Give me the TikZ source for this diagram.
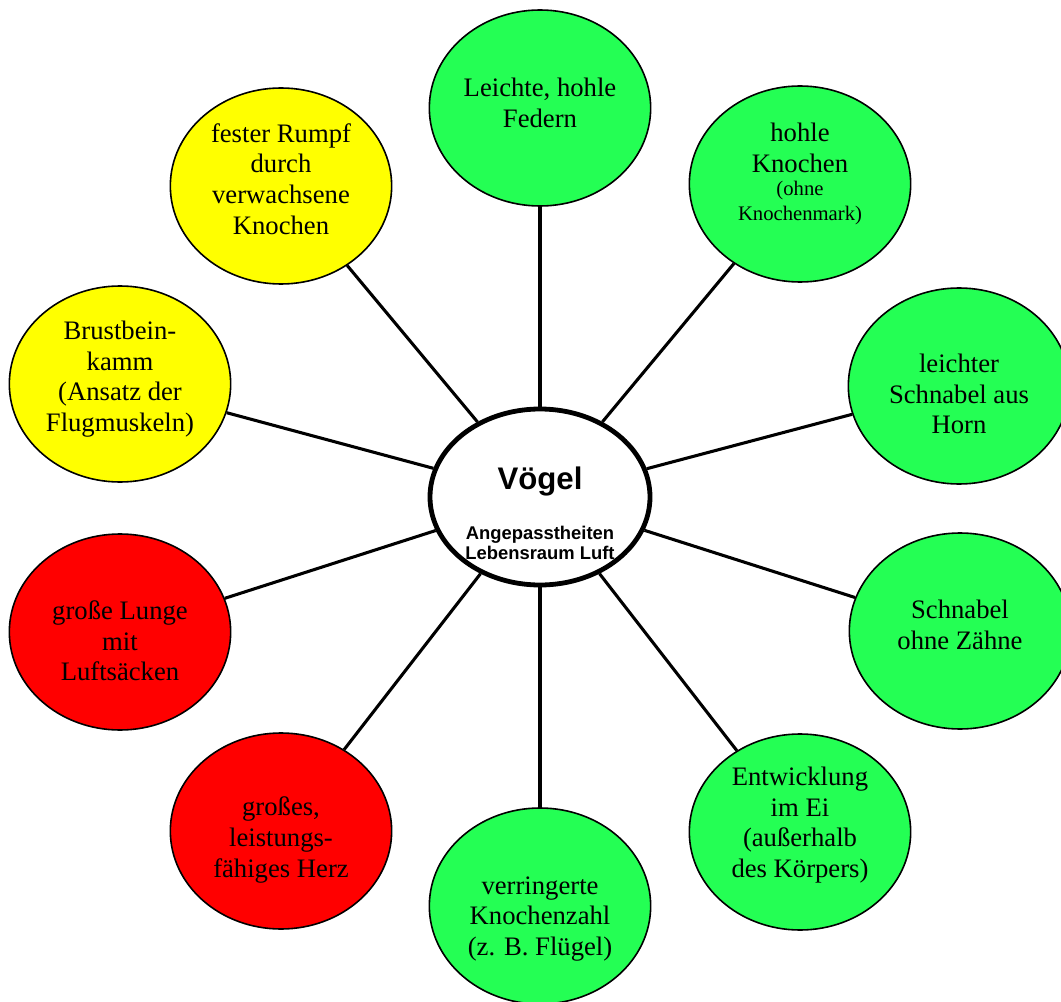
\documentclass[tikz,border=0pt]{standalone}
\usepackage{fontspec}
\setmainfont{Liberation Serif}
\setsansfont{Liberation Sans}
\usepackage{xcolor}
\usetikzlibrary{shapes.geometric}

\definecolor{blattgruen}{RGB}{36,255,84}
\definecolor{gelb}{RGB}{255,255,0}
\definecolor{rot}{RGB}{255,0,0}

\tikzset{
  bubble/.style={ellipse, draw=black, line width=1.2pt, minimum width=166pt, minimum height=147pt, inner sep=0pt},
  mitte/.style={ellipse, draw=black, line width=3.6pt, fill=white, minimum width=165pt, minimum height=132pt, inner sep=0pt},
  txt/.style={align=center, inner sep=0pt, font=\fontsize{20}{23}\selectfont},
  kleintxt/.style={align=center, inner sep=0pt, font=\fontsize{15.5}{18.5}\selectfont},
  link/.style={line width=2.3pt}
}

\begin{document}
\begin{tikzpicture}[x=0.75pt, y=-0.75pt]
\useasboundingbox (0,0) rectangle (1061,1002);
% centre
\node[mitte] (voegel) at (540,497) {};
\node[inner sep=0pt, font=\sffamily\bfseries\fontsize{23.4}{28}\selectfont] (voegel-titel) at (540,482) {Vögel};
\node[align=center, inner sep=0pt, font=\sffamily\bfseries\fontsize{13.8}{15}\selectfont] (voegel-sub) at (540,543) {Angepasstheiten\\Lebensraum Luft};
% green bubbles
\node[bubble, fill=blattgruen] (federn) at (540,108) {};
\node[txt] (federn-txt) at (540,103) {Leichte, hohle\\Federn};
\node[bubble, fill=blattgruen] (knochen) at (800,184) {};
\node[txt] (knochen-txt) at (800,148) {hohle\\Knochen};
\node[kleintxt] (knochen-klein) at (800,203) {(ohne\\Knochenmark)};
\node[bubble, fill=blattgruen] (horn) at (959,386) {};
\node[txt] (horn-txt) at (959,394) {leichter\\Schnabel aus\\Horn};
\node[bubble, fill=blattgruen] (zaehne) at (960,631) {};
\node[txt] (zaehne-txt) at (960,625) {Schnabel\\ohne Zähne};
\node[bubble, fill=blattgruen] (ei) at (800,832) {};
\node[txt] (ei-txt) at (800,825) {Entwicklung\\im Ei\\(außerhalb\\des Körpers)};
\node[bubble, fill=blattgruen] (knochenzahl) at (540,906) {};
\node[txt] (knochenzahl-txt) at (540,919) {verringerte\\Knochenzahl\\(z. B. Flügel)};
% red bubbles
\node[bubble, fill=rot] (herz) at (281,831) {};
\node[txt] (herz-txt) at (281,840) {großes,\\leistungs-\\fähiges Herz};
\node[bubble, fill=rot] (lunge) at (120,632) {};
\node[txt] (lunge-txt) at (120,641) {große Lunge\\mit\\Luftsäcken};
% yellow bubbles
\node[bubble, fill=gelb] (brustbein) at (120,384) {};
\node[txt] (brustbein-txt) at (120,379) {Brustbein-\\kamm\\(Ansatz der\\Flugmuskeln)};
\node[bubble, fill=gelb] (rumpf) at (281,186) {};
\node[txt] (rumpf-txt) at (281,179) {fester Rumpf\\durch\\verwachsene\\Knochen};
% connectors
\foreach \n in {federn,knochen,horn,zaehne,ei,knochenzahl,herz,lunge,brustbein,rumpf}{\draw[link] (voegel) -- (\n);}
\end{tikzpicture}
\end{document}
